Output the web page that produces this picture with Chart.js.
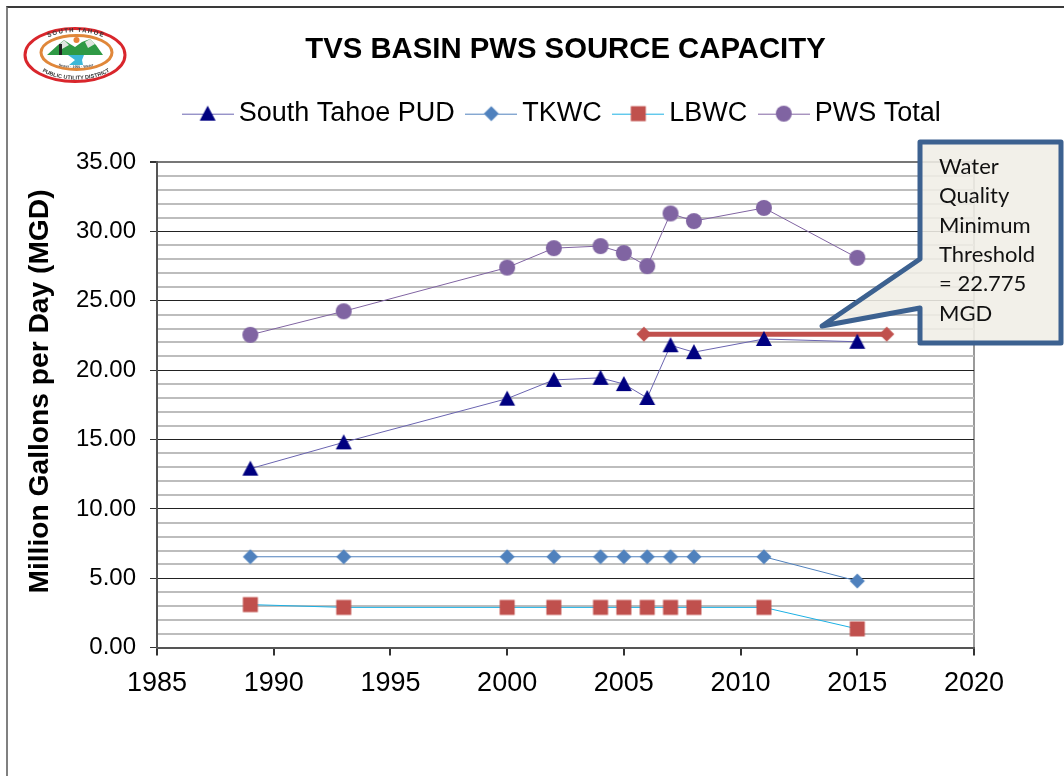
<!DOCTYPE html>
<html>
<head>
<meta charset="utf-8">
<title>TVS Basin PWS Source Capacity</title>
<script src="https://cdn.jsdelivr.net/npm/chart.js@4"></script>
<style>
  html, body { margin: 0; padding: 0; background: #fff; overflow: hidden; }
  #wrap { position: relative; width: 1064px; height: 776px; }
  #frame { position: absolute; left: 6px; top: 6px; width: 1064px; height: 800px; box-sizing: border-box; border-left: 2px solid #808080; border-top: 2px solid #3a3a3a; }
  #logo { position: absolute; left: 22px; top: 25px; filter: blur(0.45px); }
</style>
</head>
<body>
<div id="wrap">
  <canvas id="chart" width="1064" height="776"></canvas>
  <div id="frame"></div>
  <svg id="logo" width="106" height="60" viewBox="0 0 106 60">
    <defs>
      <path id="arcTop" d="M14,27 A40,20 0 0 1 94,27"/>
      <path id="arcBottom" d="M7,28 A46,26 0 0 0 101,28"/>
      <path id="arcInner" d="M24,32 A30,11 0 0 0 84,32"/>
    </defs>
    <ellipse cx="53" cy="30" rx="50" ry="26.5" fill="#fff" stroke="#d9262c" stroke-width="3"/>
    <ellipse cx="54.5" cy="27.5" rx="35.5" ry="17" fill="#fff" stroke="#e0873a" stroke-width="3"/>
    <polygon points="25,30 36,20 42,15 48,19 53,22 60,17 68,14 74,20 81,30 62,30 46,30" fill="#2f9a45"/>
    <polygon points="42,15 47,20 40,24 37,20" fill="#dfe5df"/>
    <polygon points="68,14 73,19 66,23 63,17" fill="#dfe5df"/>
    <circle cx="54.5" cy="15" r="3" fill="#e8823a"/>
    <rect x="37" y="19" width="3" height="11" fill="#222"/>
    <polygon points="46,30 62,30 60,35 61,40 47,40 53,35" fill="#3cb8d8"/>
    <text font-family="Liberation Sans" font-size="6" font-weight="bold" fill="#333" letter-spacing="1.2"><textPath href="#arcTop" startOffset="50%" text-anchor="middle">SOUTH TAHOE</textPath></text>
    <text font-family="Liberation Sans" font-size="5.5" font-weight="bold" fill="#333"><textPath href="#arcBottom" startOffset="50%" text-anchor="middle">PUBLIC UTILITY DISTRICT</textPath></text>
    <text font-family="Liberation Sans" font-size="3.6" font-weight="bold" fill="#444"><textPath href="#arcInner" startOffset="50%" text-anchor="middle">Sewer · 1950 · Water</textPath></text>
  </svg>
</div>
<script>
const years = [1989, 1993, 2000, 2002, 2004, 2005, 2006, 2007, 2008, 2011, 2015];
const southTahoe = [12.9, 14.8, 17.95, 19.3, 19.45, 19.0, 18.0, 21.8, 21.3, 22.25, 22.05];
const tkwc = [6.55, 6.55, 6.55, 6.55, 6.55, 6.55, 6.55, 6.55, 6.55, 6.55, 4.8];
const lbwc = [3.1, 2.9, 2.9, 2.9, 2.9, 2.9, 2.9, 2.9, 2.9, 2.9, 1.35];
const pwsTotal = [22.55, 24.25, 27.4, 28.8, 28.95, 28.45, 27.5, 31.3, 30.75, 31.7, 28.1];
const thresholdYears = [2005.86, 2016.26];
const thresholdValues = [22.6, 22.6];
const calloutLines = ["Water", "Quality", "Minimum", "Threshold", "= 22.775", "MGD"];
const yAxisTitle = "Million Gallons per Day (MGD)";

function pontos(xs, ys) {
  return xs.map((x, i) => ({ x, y: ys[i] }));
}

// marker images, so the triangle sits centred on the line like in Excel
function desenhaMarcador(ctx, tipo, cx, cy, cor) {
  ctx.fillStyle = cor;
  ctx.beginPath();
  if (tipo === "triangle") {
    ctx.moveTo(cx, cy - 8);
    ctx.lineTo(cx + 8, cy + 7);
    ctx.lineTo(cx - 8, cy + 7);
  } else if (tipo === "diamond") {
    ctx.moveTo(cx, cy - 7.5);
    ctx.lineTo(cx + 7.5, cy);
    ctx.lineTo(cx, cy + 7.5);
    ctx.lineTo(cx - 7.5, cy);
  } else if (tipo === "square") {
    ctx.rect(cx - 7.5, cy - 7.5, 15, 15);
  } else {
    ctx.arc(cx, cy, 8, 0, Math.PI * 2);
  }
  ctx.closePath();
  ctx.fill();
}

function marcador(tipo, cor) {
  const c = document.createElement("canvas");
  c.width = 18;
  c.height = 18;
  desenhaMarcador(c.getContext("2d"), tipo, 9, 9, cor);
  return c;
}

function marcadorLegenda(tipo, cor, corLinha) {
  const c = document.createElement("canvas");
  c.width = 52;
  c.height = 18;
  const ctx = c.getContext("2d");
  ctx.strokeStyle = corLinha;
  ctx.lineWidth = 1;
  ctx.beginPath();
  ctx.moveTo(0, 9.5);
  ctx.lineTo(52, 9.5);
  ctx.stroke();
  desenhaMarcador(ctx, tipo, 26, 9, cor);
  return c;
}

const series = [
  { label: "South Tahoe PUD", data: southTahoe, tipo: "triangle", cor: "#000080", linha: "#6a64b0" },
  { label: "TKWC", data: tkwc, tipo: "diamond", cor: "#4f81bd", linha: "#4f81bd" },
  { label: "LBWC", data: lbwc, tipo: "square", cor: "#c0504d", linha: "#1cb0e4" },
  { label: "PWS Total", data: pwsTotal, tipo: "circle", cor: "#8064a2", linha: "#8064a2" }
];

const datasets = series.map(s => ({
  label: s.label,
  data: pontos(years, s.data),
  borderColor: s.linha,
  backgroundColor: s.cor,
  borderWidth: 1,
  pointStyle: marcador(s.tipo, s.cor),
  legendStyle: marcadorLegenda(s.tipo, s.cor, s.linha),
  tension: 0,
  fill: false
}));

datasets.push({
  label: "Threshold",
  data: pontos(thresholdYears, thresholdValues),
  borderColor: "#c0504d",
  backgroundColor: "#c0504d",
  borderWidth: 5,
  pointStyle: marcador("diamond", "#c0504d"),
  tension: 0,
  fill: false
});

// more room under the legend than chart.js leaves by itself
const legendGapPlugin = {
  id: "legendGap",
  beforeInit(chart) {
    const fitOriginal = chart.legend.fit;
    chart.legend.fit = function () {
      fitOriginal.call(this);
      this.height += 25;
    };
  }
};

// speech bubble with the threshold note, drawn on top of the plot
const calloutPlugin = {
  id: "callout",
  afterDraw(chart) {
    const ctx = chart.ctx;
    ctx.save();
    // y title sits a bit above the plot centre in the original
    ctx.save();
    ctx.translate(40, 391.5);
    ctx.rotate(-Math.PI / 2);
    ctx.fillStyle = "#000";
    ctx.font = "bold 28.2px 'Liberation Sans'";
    ctx.textAlign = "center";
    ctx.textBaseline = "middle";
    ctx.fillText(yAxisTitle, 0, 0);
    ctx.restore();

    ctx.beginPath();
    ctx.moveTo(920, 142);
    ctx.lineTo(1061, 142);
    ctx.lineTo(1061, 343);
    ctx.lineTo(920, 343);
    ctx.lineTo(920, 308);
    ctx.lineTo(822, 326);
    ctx.lineTo(920, 259);
    ctx.closePath();
    ctx.fillStyle = "rgba(240, 238, 230, 0.88)";
    ctx.fill();
    ctx.strokeStyle = "#3c6190";
    ctx.lineWidth = 5;
    ctx.lineJoin = "round";
    ctx.stroke();
    ctx.fillStyle = "#111";
    ctx.font = "22px Lato";
    ctx.textBaseline = "middle";
    calloutLines.forEach((linha, i) => {
      ctx.fillText(linha, 939, 167 + i * 29.3);
    });
    ctx.restore();
  }
};

new Chart(document.getElementById("chart"), {
  type: "line",
  data: { datasets },
  options: {
    responsive: false,
    animation: false,
    layout: {
      padding: { top: 32, right: 90, bottom: 64, left: 24 }
    },
    plugins: {
      tooltip: { enabled: false },
      title: {
        display: true,
        text: "TVS BASIN PWS SOURCE CAPACITY",
        color: "#000",
        fullSize: false,
        font: { family: "Liberation Sans", size: 29.3, weight: "bold" },
        padding: { top: 0, bottom: 14 }
      },
      legend: {
        display: true,
        position: "top",
        fullSize: false,
        labels: {
          color: "#000",
          usePointStyle: true,
          pointStyleWidth: 35,
          boxHeight: 18,
          padding: 19,
          font: { family: "Liberation Sans", size: 27 },
          filter: item => item.text !== "Threshold",
          generateLabels(chart) {
            return chart.data.datasets.map((d, i) => ({
              text: d.label,
              datasetIndex: i,
              pointStyle: d.legendStyle,
              fontColor: "#000",
              lineWidth: 0,
              strokeStyle: "transparent",
              fillStyle: "transparent"
            }));
          }
        }
      }
    },
    scales: {
      x: {
        type: "linear",
        min: 1985,
        max: 2020,
        ticks: {
          stepSize: 5,
          color: "#000",
          maxRotation: 0,
          padding: 12,
          font: { family: "Liberation Sans", size: 27 },
          callback: v => String(v)
        },
        grid: {
          color: c => (c.tick && c.tick.value === 2020 ? "#9a9a9a" : "transparent"),
          tickColor: "#333",
          tickLength: 8,
          lineWidth: 2
        },
        border: { color: "#555", width: 2 }
      },
      y: {
        min: 0,
        max: 35,
        afterFit(scale) {
          scale.width = 133;
        },
        ticks: {
          stepSize: 1,
          autoSkip: false,
          color: "#000",
          padding: 14,
          font: { family: "Liberation Sans", size: 24 },
          callback: v => (v % 5 === 0 ? v.toFixed(2) : "")
        },
        grid: {
          color: c => (c.tick.value === 35 ? "#777" : c.tick.value % 5 === 0 ? "#222" : "#bdbdbd"),
          lineWidth: c => (c.tick.value % 5 === 0 && c.tick.value !== 35 ? 1 : 2),
          tickColor: c => (c.tick.value % 5 === 0 ? "#333" : "transparent"),
          tickLength: 7
        },
        border: { color: "#555", width: 2 }
      }
    }
  },
  plugins: [legendGapPlugin, calloutPlugin]
});
</script>
</body>
</html>
